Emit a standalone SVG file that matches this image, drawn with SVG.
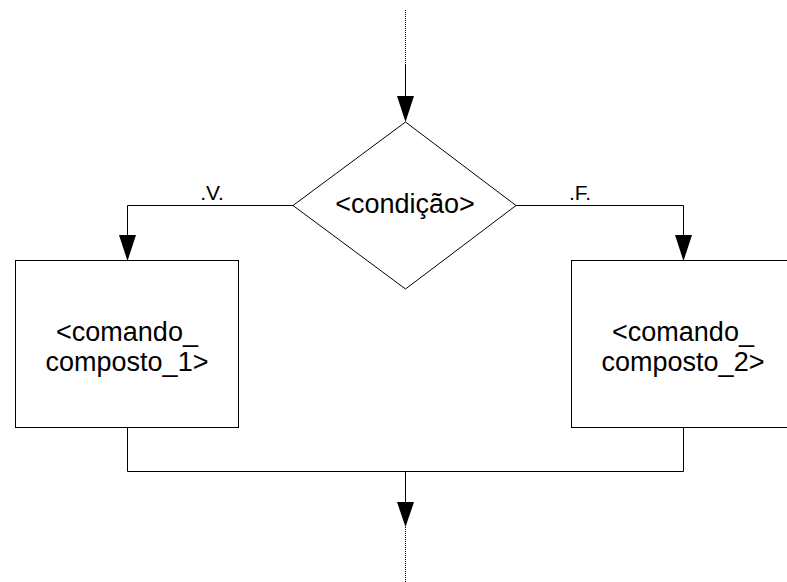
<svg xmlns="http://www.w3.org/2000/svg" width="787" height="582" viewBox="0 0 787 582">
<defs>
<style>
.ln{fill:none;stroke:#000;stroke-width:1}
.dot{fill:none;stroke:#000;stroke-width:1;stroke-dasharray:1 1}
.shape{fill:#fff;stroke:#000;stroke-width:1}
.t{font-family:"Liberation Sans",Arial,sans-serif;font-size:27px;fill:#000;text-anchor:middle}
.lbl{font-family:"Liberation Sans",Arial,sans-serif;font-size:21px;fill:#000;text-anchor:middle}
.ah{fill:#000;stroke:none}
</style>
</defs>
<rect width="787" height="582" fill="#fff"/>
<g id="connectors">
<line class="dot" x1="405.5" y1="10" x2="405.5" y2="65"/>
<line class="ln" x1="405.5" y1="65" x2="405.5" y2="100"/>
<polygon class="ah" points="397,96 414,96 405.5,122"/>
<polyline class="ln" points="293,205.5 127.5,205.5 127.5,238"/>
<polygon class="ah" points="119,235 136,235 127.5,261"/>
<polyline class="ln" points="516,205.5 683.5,205.5 683.5,238"/>
<polygon class="ah" points="675,235 692,235 683.5,261"/>
<polyline class="ln" points="127.5,427 127.5,471.5 683.5,471.5 683.5,427"/>
<line class="ln" x1="405.5" y1="471.5" x2="405.5" y2="505"/>
<polygon class="ah" points="397,502 414,502 405.5,527"/>
<line class="dot" x1="405.5" y1="527" x2="405.5" y2="582"/>
<text class="lbl" x="212" y="200">.V.</text>
<text class="lbl" x="580" y="200">.F.</text>
</g>
<g id="decision">
<polygon class="shape" points="405.5,122 516,205.5 405.5,289 293,205.5"/>
<text class="t" x="405" y="213">&lt;condição&gt;</text>
</g>
<g id="cmd1">
<rect class="shape" x="15.5" y="260.5" width="223" height="167"/>
<text class="t" x="127" y="341">&lt;comando_</text>
<text class="t" x="127" y="371">composto_1&gt;</text>
</g>
<g id="cmd2">
<rect class="shape" x="571.5" y="260.5" width="223" height="167"/>
<text class="t" x="683" y="341">&lt;comando_</text>
<text class="t" x="683" y="371">composto_2&gt;</text>
</g>
</svg>
